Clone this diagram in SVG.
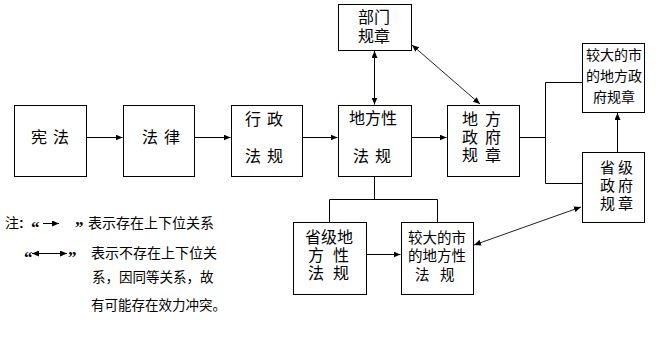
<svg xmlns="http://www.w3.org/2000/svg" width="662" height="341" viewBox="0 0 662 341">
<style>
.box{fill:#fff;stroke:#000;stroke-width:1}
.t{font-family:"Noto Sans CJK SC","Noto Sans",sans-serif;fill:#000}
.t16{font-size:16px}
.t15{font-size:15px}
.t14{font-size:14px}
.ln{fill:none;stroke:#000;stroke-width:1}
.dg{fill:none;stroke:#222;stroke-width:1}
.q{font-family:"Liberation Serif",serif;font-size:17px;font-weight:bold}
</style>
<defs>
<marker id="ah" markerUnits="userSpaceOnUse" markerWidth="8" markerHeight="6" refX="7" refY="3" orient="auto-start-reverse">
<path d="M0,0 L7,3 L0,6 Z" fill="#000"/>
</marker>
</defs>
<rect width="662" height="341" fill="#fff"/>

<g id="connectors">
<line class="ln" x1="86.5" y1="137.5" x2="122.5" y2="137.5" marker-end="url(#ah)"/>
<line class="ln" x1="194.5" y1="137.5" x2="230.5" y2="137.5" marker-end="url(#ah)"/>
<line class="ln" x1="302.5" y1="137.5" x2="337.5" y2="137.5" marker-end="url(#ah)"/>
<line class="ln" x1="411.5" y1="137.5" x2="446.5" y2="137.5" marker-end="url(#ah)"/>
<line class="ln" x1="374.5" y1="51" x2="374.5" y2="104.5" marker-start="url(#ah)" marker-end="url(#ah)"/>
<line class="dg" x1="412" y1="45" x2="480" y2="104" marker-start="url(#ah)" marker-end="url(#ah)"/>
<polyline class="ln" points="519.5,137.5 545.5,137.5"/>
<polyline class="ln" points="582,82.5 545.5,82.5 545.5,183.5 582,183.5"/>
<line class="ln" x1="617.5" y1="152" x2="617.5" y2="113" marker-end="url(#ah)"/>
<polyline class="ln" points="374.5,176.5 374.5,199.5"/>
<polyline class="ln" points="329.5,222 329.5,199.5 437.5,199.5 437.5,222"/>
<line class="ln" x1="366.5" y1="254.5" x2="400.5" y2="254.5" marker-end="url(#ah)"/>
<line class="dg" x1="474" y1="245" x2="581" y2="207" marker-start="url(#ah)" marker-end="url(#ah)"/>
</g>

<g id="n-xianfa">
<rect class="box" x="14.5" y="105.5" width="72" height="71"/>
<text class="t t16" x="31 47 53" y="143">宪 法</text>
</g>
<g id="n-falv">
<rect class="box" x="123.5" y="105.5" width="71" height="71"/>
<text class="t t16" x="142 158 164" y="143">法 律</text>
</g>
<g id="n-xingzhengfagui">
<rect class="box" x="231.5" y="105.5" width="71" height="71"/>
<text class="t t16" x="245 261 267" y="125">行 政</text>
<text class="t t16" x="245 261 267" y="162">法 规</text>
</g>
<g id="n-difangxingfagui">
<rect class="box" x="338.5" y="105.5" width="73" height="71"/>
<text class="t t16" x="349" y="124">地方性</text>
<text class="t t16" x="353 369 375" y="162">法 规</text>
</g>
<g id="n-bumenguizhang">
<rect class="box" x="338.5" y="4.5" width="73" height="46"/>
<text class="t t16" x="358" y="23">部门</text>
<text class="t t16" x="358" y="42">规章</text>
</g>
<g id="n-difangzhengfuguizhang">
<rect class="box" x="447.5" y="105.5" width="72" height="71"/>
<text class="t t16" x="462 478 485" y="125">地 方</text>
<text class="t t16" x="462 478 485" y="143">政 府</text>
<text class="t t16" x="462 478 485" y="161">规 章</text>
</g>
<g id="n-jiaodashi-guizhang">
<rect class="box" x="582.5" y="43.5" width="62" height="69"/>
<text class="t t14" x="586" y="60.3">较大的市</text>
<text class="t t14" x="586" y="81.3">的地方政</text>
<text class="t t14" x="593" y="102.3">府规章</text>
</g>
<g id="n-shengji-guizhang">
<rect class="box" x="582.5" y="152.5" width="62" height="70"/>
<text class="t t15" x="600 615 618" y="172.7">省 级</text>
<text class="t t15" x="600 615 618" y="190.7">政 府</text>
<text class="t t15" x="600 615 618" y="208.7">规 章</text>
</g>
<g id="n-shengji-fagui">
<rect class="box" x="293.5" y="222.5" width="73" height="72"/>
<text class="t t16" x="305" y="243">省级地</text>
<text class="t t16" x="308 324 333" y="261">方 性</text>
<text class="t t16" x="308 324 333" y="279">法 规</text>
</g>
<g id="n-jiaodashi-fagui">
<rect class="box" x="401.5" y="222.5" width="72" height="72"/>
<text class="t" style="font-size:14.5px" x="408" y="242.5">较大的市</text>
<text class="t" style="font-size:14.5px" x="408" y="260.5">的地方性</text>
<text class="t" style="font-size:14.5px" x="415 430 440" y="279.5">法 规</text>
</g>

<g id="legend">
<text class="t t14" x="5" y="228.3">注<tspan x="19" style="font-family:'Liberation Sans',sans-serif;font-weight:bold">:</tspan></text>
<text class="q" x="31" y="233">“</text>
<line class="ln" x1="43" y1="223.5" x2="59" y2="223.5" marker-end="url(#ah)"/>
<text class="q" x="75" y="233">”</text>
<text class="t t14" x="88" y="228.3">表示存在上下位关系</text>
<text class="q" x="24" y="263">“</text>
<line class="ln" x1="32" y1="253.5" x2="67" y2="253.5" marker-start="url(#ah)" marker-end="url(#ah)"/>
<text class="q" x="68" y="263">”</text>
<text class="t t14" x="91" y="258.3">表示不存在上下位关</text>
<text class="t" style="font-size:13.5px" x="92" y="282">系，因同等关系，故</text>
<text class="t" style="font-size:13.5px" x="91" y="310">有可能存在效力冲突。</text>
</g>
</svg>
